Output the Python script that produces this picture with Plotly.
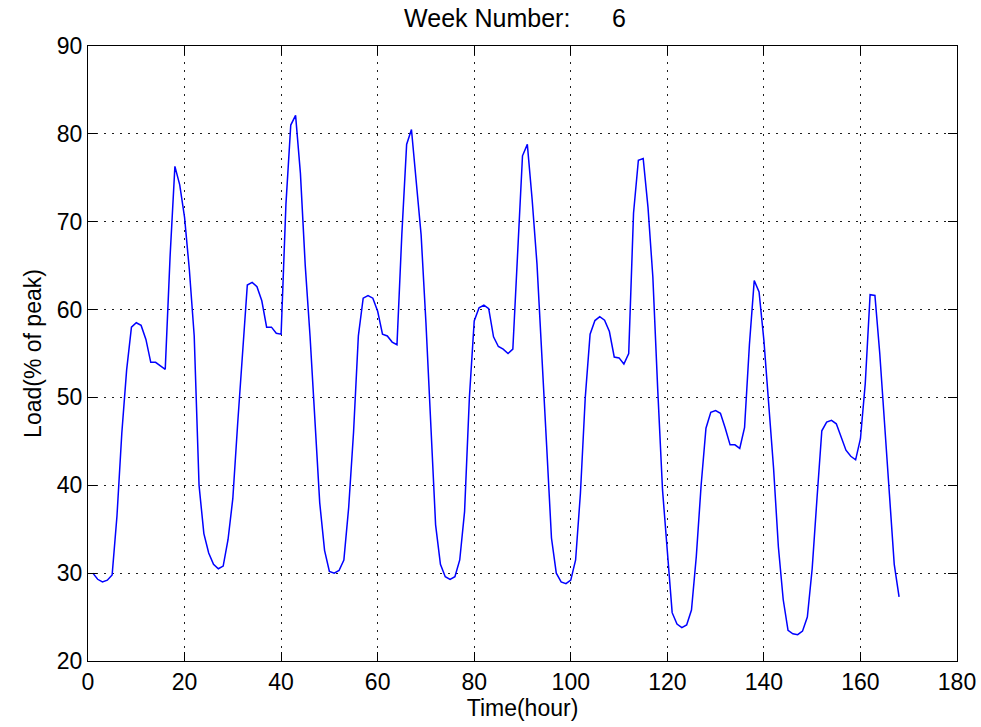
import plotly.graph_objects as go

hours = list(range(1, 169))
load = [
    30.0, 29.3, 29.0, 29.2, 29.8, 36.5, 45.9, 53.1, 58.0, 58.5, 58.2, 56.6,
    54.0, 54.0, 53.6, 53.2, 66.0, 76.3, 74.2, 70.5, 64.5, 57.0, 40.0, 34.5,
    32.3, 31.0, 30.5, 30.8, 33.8, 38.5, 47.0, 55.0, 62.8, 63.1, 62.6, 61.0,
    58.0, 58.0, 57.3, 57.2, 72.0, 81.0, 82.1, 75.5, 65.0, 56.9, 47.8, 38.0,
    32.6, 30.2, 30.0, 30.3, 31.5, 37.5, 46.0, 57.0, 61.3, 61.6, 61.3, 59.8,
    57.2, 57.0, 56.3, 56.0, 68.5, 78.8, 80.5, 74.7, 68.5, 58.5, 47.0, 35.5,
    31.0, 29.6, 29.3, 29.6, 31.5, 37.0, 50.0, 58.7, 60.2, 60.5, 60.1, 56.9,
    55.8, 55.5, 55.0, 55.5, 66.5, 77.5, 78.8, 72.5, 65.2, 54.0, 44.5, 34.0,
    30.0, 29.0, 28.8, 29.2, 31.5, 39.1, 50.0, 57.2, 58.75, 59.2, 58.8, 57.5,
    54.6, 54.5, 53.8, 55.0, 71.0, 77.0, 77.2, 71.6, 63.7, 51.0, 39.5, 32.5,
    25.5, 24.2, 23.8, 24.1, 25.8, 31.9, 40.0, 46.5, 48.3, 48.5, 48.2, 46.5,
    44.6, 44.6, 44.2, 46.6, 56.0, 63.3, 62.0, 56.5, 49.5, 42.0, 33.0, 27.0,
    23.5, 23.1, 23.0, 23.4, 25.0, 30.5, 38.5, 46.2, 47.2, 47.4, 47.0, 45.5,
    44.0, 43.3, 42.9, 45.3, 51.6, 61.7, 61.6, 55.0, 46.5, 39.0, 31.0, 27.3,
]

x_ticks = [0, 20, 40, 60, 80, 100, 120, 140, 160, 180]
y_ticks = [20, 30, 40, 50, 60, 70, 80, 90]
title_text = "Week Number:" + "\u00a0" * 6 + "6"

FONT = "Liberation Sans"

fig = go.Figure()
fig.add_trace(go.Scatter(x=hours, y=load, mode="lines",
                         line=dict(color="rgb(0,0,255)", width=1.5),
                         showlegend=False, hoverinfo="skip"))

axis_common = dict(
    showline=True, linecolor="black", linewidth=1, mirror="allticks",
    ticks="inside", ticklen=9, tickcolor="black", tickwidth=1,
    showgrid=True, gridcolor="rgb(30,30,30)", gridwidth=1, griddash="2px,6px",
    zeroline=False, automargin=False,
    tickfont=dict(family=FONT, size=23, color="black"),
)

fig.update_layout(
    width=981, height=727,
    paper_bgcolor="white", plot_bgcolor="white",
    margin=dict(l=88, r=24, t=46, b=66),
    title=dict(text=title_text, x=0.525, xanchor="center", y=0.975, yanchor="middle",
               font=dict(family=FONT, size=25, color="black")),
    xaxis=dict(range=[0, 180], tickvals=x_ticks,
               title=dict(text="Time(hour)", standoff=6,
                          font=dict(family=FONT, size=23, color="black")),
               **axis_common),
    yaxis=dict(range=[20, 90], tickvals=y_ticks,
               title=dict(text="Load(% of peak)", standoff=8,
                          font=dict(family=FONT, size=23, color="black")),
               **axis_common),
)

fig.write_html("out.html", config={"displayModeBar": False},
               post_script="document.body.style.margin='0';document.body.style.overflow='hidden';")
